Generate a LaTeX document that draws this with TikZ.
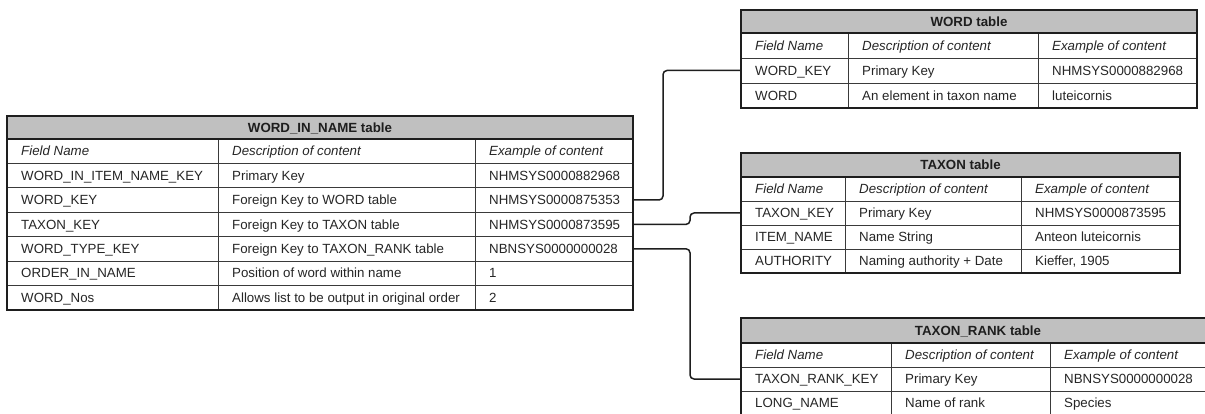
\documentclass[tikz,border=0pt]{standalone}
\usepackage{fontspec}
\setmainfont{Liberation Sans}
\usetikzlibrary{calc}
\definecolor{ttlgray}{HTML}{C0C0C0}
\definecolor{ink}{HTML}{1E1E1E}
\definecolor{rulec}{HTML}{3A3A3A}
\definecolor{txtc}{HTML}{262626}
\tikzset{
  rowbox/.style={draw=rulec, line width=0.9pt, fill=white, inner sep=0pt, outer sep=0pt, rectangle},
  titlebox/.style={draw=ink, line width=1.4pt, fill=ttlgray, inner sep=0pt, outer sep=0pt, rectangle},
  txt/.style={inner sep=0pt, text=txtc, font=\fontsize{13.3}{15}\selectfont},
  ttl/.style={inner sep=0pt, text=ink, font=\fontsize{13.3}{15}\selectfont\bfseries},
  colrule/.style={draw=rulec, line width=0.9pt},
  outerframe/.style={draw=ink, line width=1.6pt},
  conn/.style={draw=ink, line width=1.5pt, rounded corners=4pt},
}
% #1 name, #2 x, #3 y(top), #4 width, #5 height, #6 #7 #8 cell texts
\newcommand\tblrow[8]{%
  \node[rowbox, minimum width=#4pt, minimum height=#5pt, anchor=north west] (#1) at (#2,#3) {};
  \node[txt, anchor=base west] (#1a) at ([xshift=\insetA pt, yshift=-4.7pt]#1.west) {#6};
  \node[txt, anchor=base west] (#1b) at ([xshift=\offB pt, yshift=-4.7pt]#1.west) {#7};
  \node[txt, anchor=base west] (#1c) at ([xshift=\offC pt, yshift=-4.7pt]#1.west) {#8};
}
% #1 name, #2 x, #3 y, #4 width, #5 height, #6 title
\newcommand\tbltitle[6]{%
  \node[titlebox, minimum width=#4pt, minimum height=#5pt, anchor=north west] (#1) at (#2,#3) {};
  \node[ttl, anchor=base] (#1t) at ([yshift=-4.7pt]#1.center) {#6};
}
\begin{document}
\begin{tikzpicture}[x=1pt, y=-1pt]
\path[use as bounding box] (0,0) rectangle (1205,414);
\clip (0,0) rectangle (1205,414);
\fill[white] (0,0) rectangle (1205,414);

% ---------------- WORD_IN_NAME table ----------------
\def\insetA{14}\def\offB{225}\def\offC{482}
\tbltitle{mT}{7}{116}{626}{23}{WORD\_IN\_NAME table}
\tblrow{mH}{7}{139}{626}{24.4}{\itshape Field Name}{\itshape Description of content}{\itshape Example of content}
\tblrow{m1}{7}{163.4}{626}{24.4}{WORD\_IN\_ITEM\_NAME\_KEY}{Primary Key}{NHMSYS0000882968}
\tblrow{m2}{7}{187.8}{626}{24.4}{WORD\_KEY}{Foreign Key to WORD table}{NHMSYS0000875353}
\tblrow{m3}{7}{212.2}{626}{24.4}{TAXON\_KEY}{Foreign Key to TAXON table}{NHMSYS0000873595}
\tblrow{m4}{7}{236.6}{626}{24.4}{WORD\_TYPE\_KEY}{Foreign Key to TAXON\_RANK table}{NBNSYS0000000028}
\tblrow{m5}{7}{261}{626}{24.4}{ORDER\_IN\_NAME}{Position of word within name}{1}
\tblrow{m6}{7}{285.4}{626}{24.4}{WORD\_Nos}{Allows list to be output in original order}{2}
\draw[colrule] (218,139) -- (218,309.8) (475,139) -- (475,309.8);
\draw[outerframe] (7,116) rectangle (633,309.8) (7,139) -- (633,139);

% ---------------- WORD table ----------------
\def\offB{121}\def\offC{311}
\tbltitle{wT}{741}{10}{456}{23}{WORD table}
\tblrow{wH}{741}{33}{456}{25}{\itshape Field Name}{\itshape Description of content}{\itshape Example of content}
\tblrow{w1}{741}{58}{456}{25}{WORD\_KEY}{Primary Key}{NHMSYS0000882968}
\tblrow{w2}{741}{83}{456}{25}{WORD}{An element in taxon name}{luteicornis}
\draw[colrule] (848,33) -- (848,108) (1038,33) -- (1038,108);
\draw[outerframe] (741,10) rectangle (1197,108) (741,33) -- (1197,33);

% ---------------- TAXON table ----------------
\def\offB{118}\def\offC{294}
\tbltitle{tT}{741}{153}{439}{24}{TAXON table}
\tblrow{tH}{741}{177}{439}{24}{\itshape Field Name}{\itshape Description of content}{\itshape Example of content}
\tblrow{t1}{741}{201}{439}{24}{TAXON\_KEY}{Primary Key}{NHMSYS0000873595}
\tblrow{t2}{741}{225}{439}{24}{ITEM\_NAME}{Name String}{Anteon luteicornis}
\tblrow{t3}{741}{249}{439}{24}{AUTHORITY}{Naming authority + Date}{Kieffer, 1905}
\draw[colrule] (845,177) -- (845,273) (1021,177) -- (1021,273);
\draw[outerframe] (741,153) rectangle (1180,273) (741,177) -- (1180,177);

% ---------------- TAXON_RANK table ----------------
\def\offB{164}\def\offC{323}
\tbltitle{rT}{741}{318}{474}{25}{TAXON\_RANK table}
\tblrow{rH}{741}{343}{474}{24}{\itshape Field Name}{\itshape Description of content}{\itshape Example of content}
\tblrow{r1}{741}{367}{474}{24}{TAXON\_RANK\_KEY}{Primary Key}{NBNSYS0000000028}
\tblrow{r2}{741}{391}{474}{24}{LONG\_NAME}{Name of rank}{Species}
\draw[colrule] (891,343) -- (891,415) (1050,343) -- (1050,415);
\draw[outerframe] (741,318) rectangle (1215,415) (741,343) -- (1215,343);

% ---------------- connectors ----------------
\draw[conn] (m2.east) -- ++(30,0) |- (w1.west);
\draw[conn] (m3.east) -- ++(57,0) |- (t1.west);
\draw[conn] (m4.east) -- ++(57,0) |- (r1.west);
\end{tikzpicture}
\end{document}
